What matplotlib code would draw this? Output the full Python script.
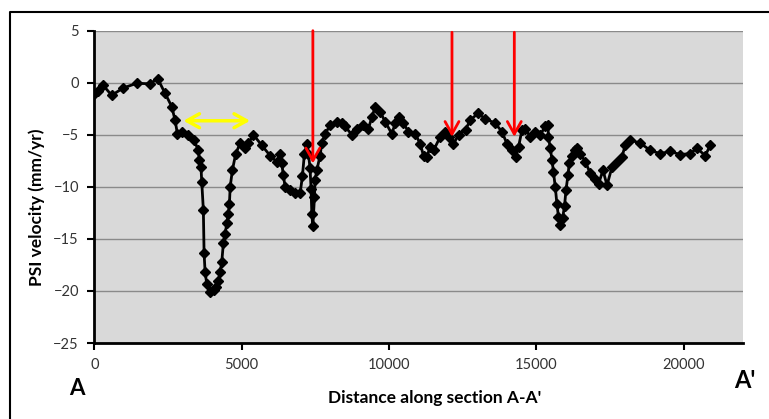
import matplotlib.pyplot as plt
from matplotlib.lines import Line2D

# distance along the section (m) and PSI velocity (mm/yr)
distance = [0, 120, 285, 590, 985, 1440, 1890, 2150, 2400, 2630, 2740, 2820, 2970,
            3190, 3385, 3530, 3565, 3620, 3645, 3700, 3725, 3760, 3815, 3930, 4050,
            4130, 4210, 4270, 4325, 4380, 4440, 4495, 4550, 4585, 4610, 4685, 4800,
            4950, 5115, 5230, 5400, 5680, 5965, 6190, 6305, 6360, 6415, 6475, 6645,
            6815, 6985, 7060, 7130, 7210, 7265, 7320, 7355, 7380, 7415, 7470, 7490,
            7550, 7660, 7720, 7830, 8000, 8230, 8400, 8510, 8740, 8910, 9130, 9300,
            9420, 9530, 9700, 9870, 10095, 10210, 10355, 10490, 10660, 10890, 11055,
            11170, 11285, 11395, 11510, 11735, 11905, 12020, 12180, 12360, 12600,
            12750, 13015, 13265, 13605, 13830, 14000, 14170, 14305, 14395, 14510,
            14620, 14790, 14960, 15130, 15300, 15390, 15410, 15470, 15530, 15580,
            15640, 15695, 15750, 15810, 15890, 15955, 16005, 16070, 16115, 16205,
            16320, 16370, 16490, 16660, 16830, 16980, 17110, 17260, 17395, 17565,
            17735, 17905, 18015, 18185, 18525, 18865, 19190, 19545, 19880, 20215,
            20450, 20730, 20900]
velocity = [-1.1, -0.8, -0.2, -1.2, -0.5, -0.05, -0.1, 0.4, -1.0, -2.3, -3.6, -4.9, -4.7,
            -5.0, -5.5, -6.5, -7.4, -8.1, -9.5, -12.2, -16.4, -18.2, -19.3, -20.1, -19.9,
            -19.6, -19.0, -18.2, -17.2, -15.4, -14.5, -13.5, -12.6, -11.6, -10.0, -8.4, -6.8,
            -5.8, -6.3, -5.8, -5.0, -6.0, -7.0, -7.6, -6.8, -7.75, -8.9, -10.0, -10.3,
            -10.6, -10.6, -9.0, -6.8, -5.9, -6.8, -8.2, -10.2, -12.6, -13.8, -11.0, -9.35,
            -8.4, -7.0, -5.8, -4.9, -4.1, -3.75, -3.9, -4.2, -5.0, -4.4, -4.1, -4.4,
            -3.3, -2.3, -2.8, -3.75, -4.9, -3.9, -3.3, -3.9, -4.7, -4.9, -5.85,
            -7.0, -7.1, -6.15, -6.5, -5.2, -4.7, -5.2, -5.9, -5.0, -4.5,
            -3.6, -2.95, -3.45, -3.9, -4.7, -5.85, -6.5, -7.1, -6.15, -4.55,
            -4.4, -5.2, -4.7, -5.0, -4.2, -4.1, -5.2, -6.3, -7.4, -8.55,
            -10.0, -11.6, -12.9, -13.7, -13.0, -11.8, -10.3, -8.9, -7.75, -7.0,
            -6.5, -6.3, -6.8, -7.6, -8.7, -9.2, -9.7, -8.4, -9.85, -8.1,
            -7.6, -7.1, -6.0, -5.5, -5.8, -6.5, -6.8, -6.6, -6.9, -6.8,
            -6.3, -7.0, -6.0]

# red arrows: position, start and tip; yellow double arrow span
red_x = [7416, 12136, 14251]
red_top = [5.0, 4.85, 4.85]
red_tip = [-7.75, -5.2, -5.2]
yellow_x = [3022, 5287]
yellow_y = -3.65

xticks = [0, 5000, 10000, 15000, 20000]
yticks = [5, 0, -5, -10, -15, -20, -25]

W, H = 769, 419
fig = plt.figure(figsize=(W / 100, H / 100), dpi=100)
ax = fig.add_axes([94.3 / W, 1 - 343 / H, (742.7 - 94.3) / W, (343 - 30.7) / H])

ax.set_facecolor('#d9d9d9')
ax.plot(distance, velocity, color='black', lw=2, marker='D', markersize=5.5, zorder=3)

ax.set_xlim(0, 22000)
ax.set_ylim(-25, 5)
ax.set_xticks(xticks)
ax.set_yticks(yticks)
ax.yaxis.grid(True, color='#8a8a8a', lw=1)
ax.set_axisbelow(True)
for s in ['top', 'right']:
    ax.spines[s].set_visible(False)
for s in ['left', 'bottom']:
    ax.spines[s].set_linewidth(2)
ax.tick_params(length=5, width=1.5, color='black', labelcolor='#333333', pad=6)
for lab in ax.get_xticklabels() + ax.get_yticklabels():
    lab.set_family('Lato')
    lab.set_fontsize(10.5)

for x, top, tip in zip(red_x, red_top, red_tip):
    ax.annotate('', xy=(x, tip), xytext=(x, top), annotation_clip=False,
                arrowprops=dict(arrowstyle='->,head_length=0.45,head_width=0.25',
                                color='red', lw=2, mutation_scale=20,
                                shrinkA=0, shrinkB=0))
ax.annotate('', xy=(yellow_x[1], yellow_y), xytext=(yellow_x[0], yellow_y),
            arrowprops=dict(arrowstyle='<->,head_length=0.45,head_width=0.25',
                            color='#ffff00', lw=2.5, mutation_scale=20,
                            shrinkA=0, shrinkB=0))

fig.text(435 / W, 1 - 402.7 / H, "Distance along section A-A'", family='Lato',
         fontweight='bold', fontsize=12.5, ha='center', va='baseline')
fig.text(37 / W, 1 - 207.5 / H, 'PSI velocity (mm/yr)', family='Lato',
         fontweight='bold', fontsize=12.5, ha='center', va='center', rotation=90)
fig.text(77 / W, 1 - 395 / H, 'A', family='Lato', fontweight='bold', fontsize=16,
         ha='center', va='baseline')
fig.text(745 / W, 1 - 388 / H, "A'", family='Lato', fontweight='bold', fontsize=17,
         ha='center', va='baseline')

# outer frame (only top and left edges fall inside the image)
fig.add_artist(Line2D([9.5 / W, 9.5 / W, 1], [0, 1 - 12.5 / H, 1 - 12.5 / H],
                      color='black', lw=1.5, transform=fig.transFigure))

fig.savefig('out.png', dpi=100)
